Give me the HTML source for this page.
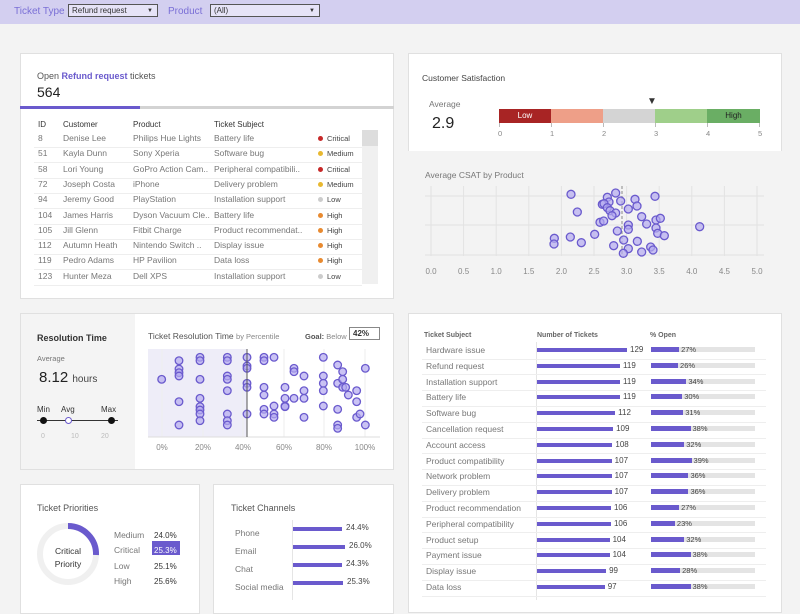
<!DOCTYPE html>
<html><head><meta charset="utf-8"><style>
*{margin:0;padding:0;box-sizing:border-box}
body{width:800px;height:600px;overflow:hidden;background:#f3f3f3;font-family:"Liberation Sans",sans-serif;color:#333;position:relative}
.a{position:absolute;white-space:nowrap}
.p{position:absolute;background:#fff;border:1px solid #e0e0e0}
.g{color:#777}
</style></head><body>
<div class="a" style="left:0;top:0;width:800px;height:24px;background:#d3cff0"></div>
<div class="a" style="left:14px;top:6px;font-size:10px;color:#7a6fd6">Ticket Type</div>
<div class="a" style="left:68px;top:4px;width:90px;height:13px;border:1px solid #555;background:#e6e3f7;font-size:8px;padding:1px 3px">Refund request<span style="position:absolute;right:4px;font-size:6px;top:3px">▼</span></div>
<div class="a" style="left:168px;top:6px;font-size:10px;color:#7a6fd6">Product</div>
<div class="a" style="left:210px;top:4px;width:110px;height:13px;border:1px solid #555;background:#e6e3f7;font-size:8px;padding:1px 3px">(All)<span style="position:absolute;right:4px;font-size:6px;top:3px">▼</span></div>

<div class="p" style="left:20px;top:53px;width:374px;height:246px"></div>
<div class="a" style="left:37px;top:71px;font-size:9px;color:#555">Open <b style="color:#6a5acd">Refund request</b> tickets</div>
<div class="a" style="left:37px;top:84px;font-size:14px;color:#222">564</div>
<div class="a" style="left:20px;top:106px;width:374px;height:3px;background:#d3d3d3"></div>
<div class="a" style="left:20px;top:106px;width:120px;height:3px;background:#6a5acd"></div>
<div class="a" style="left:362px;top:130px;width:16px;height:154px;background:#f0f0f0"></div>
<div class="a" style="left:362px;top:130px;width:16px;height:16px;background:#ddd"></div>

<div class="p" style="left:408px;top:53px;width:374px;height:246px"></div>
<div class="a" style="left:408px;top:151px;width:374px;height:148px;background:#f3f3f3"></div>
<div class="a" style="left:422px;top:73px;font-size:8.5px;color:#444">Customer Satisfaction</div>
<div class="a g" style="left:429px;top:99px;font-size:8.5px">Average</div>
<div class="a" style="left:432px;top:115px;font-size:16px;color:#222">2.9</div>
<div class="a" style="left:499px;top:109px;width:52px;height:14px;background:#a82424;color:#fff;font-size:8px;text-align:center;line-height:14px">Low</div>
<div class="a" style="left:551px;top:109px;width:52px;height:14px;background:#ee9f88"></div>
<div class="a" style="left:603px;top:109px;width:52px;height:14px;background:#d4d4d4"></div>
<div class="a" style="left:655px;top:109px;width:52px;height:14px;background:#9fcf8a"></div>
<div class="a" style="left:707px;top:109px;width:53px;height:14px;background:#6aae64;font-size:8px;text-align:center;line-height:14px;color:#222">High</div>
<div class="a" style="left:647px;top:96px;font-size:10px">▼</div>
<div class="a g" style="left:425px;top:170px;font-size:8.5px">Average CSAT by Product</div>
<svg class="a" style="left:408px;top:180px" width="374" height="100" id="cs"></svg>

<div class="p" style="left:20px;top:313px;width:374px;height:157px"></div>
<div class="a" style="left:21px;top:314px;width:114px;height:155px;background:#f4f4f4"></div>
<div class="a" style="left:37px;top:333px;font-size:9px;font-weight:bold;color:#333">Resolution Time</div>
<div class="a g" style="left:37px;top:354px;font-size:7.5px">Average</div>
<div class="a" style="left:39px;top:369px;font-size:15px;color:#222">8.12 <span style="font-size:10px;color:#444">hours</span></div>
<div class="a" style="left:37px;top:405px;font-size:8px">Min</div>
<div class="a" style="left:61px;top:405px;font-size:8px">Avg</div>
<div class="a" style="left:101px;top:405px;font-size:8px">Max</div>
<div class="a" style="left:37px;top:420px;width:81px;height:1px;background:#333"></div>
<div class="a" style="left:40px;top:417px;width:7px;height:7px;border-radius:50%;background:#111"></div>
<div class="a" style="left:65px;top:417px;width:7px;height:7px;border-radius:50%;border:1.3px solid #6a5acd;background:#fff"></div>
<div class="a" style="left:108px;top:417px;width:7px;height:7px;border-radius:50%;background:#111"></div>
<div class="a" style="left:41px;top:433px;font-size:7px;color:#bbb">0</div>
<div class="a" style="left:71px;top:433px;font-size:7px;color:#bbb">10</div>
<div class="a" style="left:101px;top:433px;font-size:7px;color:#bbb">20</div>
<div class="a" style="left:148px;top:331px;font-size:8.5px;color:#555">Ticket Resolution Time <span style="font-size:7.5px;color:#888">by Percentile</span></div>
<div class="a" style="left:305px;top:332px;font-size:7.5px;color:#888"><b style="color:#555">Goal:</b> Below</div>
<div class="a" style="left:349px;top:327px;width:31px;height:13px;border:1px solid #888;font-size:8px;font-weight:bold;padding:1px 0 0 3px;background:#fff">42%</div>
<svg class="a" style="left:135px;top:345px" width="258" height="115" id="rs"></svg>

<div class="p" style="left:408px;top:313px;width:374px;height:300px"></div>
<div class="a" style="left:424px;top:332px;font-size:7px;font-weight:bold;color:#666">Ticket Subject</div>
<div class="a" style="left:537px;top:332px;font-size:7px;font-weight:bold;color:#666">Number of Tickets</div>
<div class="a" style="left:650px;top:332px;font-size:7px;font-weight:bold;color:#666">% Open</div>
<div class="a" style="left:536px;top:342px;width:1px;height:258px;background:#e5e5e5"></div>

<div class="p" style="left:20px;top:484px;width:180px;height:130px"></div>
<div class="a" style="left:37px;top:503px;font-size:9px;color:#555">Ticket Priorities</div>
<svg class="a" style="left:36px;top:522px" width="64" height="64"><circle cx="32" cy="32" r="28" fill="none" stroke="#f0f0f0" stroke-width="6"/><path d="M32 4 A28 28 0 0 1 60 33" fill="none" stroke="#6a5acd" stroke-width="6"/></svg>
<div class="a" style="left:38px;top:545px;width:60px;text-align:center;font-size:8.5px;line-height:12.5px;color:#333">Critical<br>Priority</div>
<div class="a" style="left:152px;top:541px;width:28px;height:14px;background:#6a5acd"></div>
<div class="a g" style="left:114px;top:528px;font-size:8.5px;line-height:15.3px">Medium<br>Critical<br>Low<br>High</div>
<div class="a" style="left:154px;top:528px;font-size:8px;line-height:15.3px;color:#333">24.0%<br><span style="color:#fff">25.3%</span><br>25.1%<br>25.6%</div>

<div class="p" style="left:213px;top:484px;width:181px;height:130px"></div>
<div class="a" style="left:231px;top:503px;font-size:9px;color:#555">Ticket Channels</div>
<div class="a g" style="left:235px;top:524px;font-size:8.5px;line-height:18px">Phone<br>Email<br>Chat<br>Social media</div>
<div class="a" style="left:292px;top:520px;width:1px;height:80px;background:#e5e5e5"></div>

<script>
function h(s){document.body.insertAdjacentHTML('beforeend',s)}
var rows=[["8","Denise Lee","Philips Hue Lights","Battery life","Critical","#c62828"],["51","Kayla Dunn","Sony Xperia","Software bug","Medium","#e8b830"],["58","Lori Young","GoPro Action Cam..","Peripheral compatibili..","Critical","#c62828"],["72","Joseph Costa","iPhone","Delivery problem","Medium","#e8b830"],["94","Jeremy Good","PlayStation","Installation support","Low","#ccc"],["104","James Harris","Dyson Vacuum Cle..","Battery life","High","#e88a30"],["105","Jill Glenn","Fitbit Charge","Product recommendat..","High","#e88a30"],["112","Autumn Heath","Nintendo Switch ..","Display issue","High","#e88a30"],["119","Pedro Adams","HP Pavilion","Data loss","High","#e88a30"],["123","Hunter Meza","Dell XPS","Installation support","Low","#ccc"]];
h('<div class="a" style="left:38px;top:120px;font-size:8px;color:#333">ID</div><div class="a" style="left:63px;top:120px;font-size:8px">Customer</div><div class="a" style="left:133px;top:120px;font-size:8px">Product</div><div class="a" style="left:214px;top:120px;font-size:8px">Ticket Subject</div>');
rows.forEach(function(r,i){var y=133+i*15.3;
h('<div class="a" style="left:34px;top:'+(y+14)+'px;width:328px;height:1px;background:#eee"></div>');
h('<div class="a g" style="left:38px;top:'+y+'px;font-size:8.5px">'+r[0]+'</div><div class="a g" style="left:63px;top:'+y+'px;font-size:8.5px">'+r[1]+'</div><div class="a g" style="left:133px;top:'+y+'px;font-size:8.5px">'+r[2]+'</div><div class="a g" style="left:214px;top:'+y+'px;font-size:8.5px">'+r[3]+'</div>');
h('<div class="a" style="left:318px;top:'+(y+3)+'px;width:5px;height:5px;border-radius:50%;background:'+r[5]+'"></div><div class="a" style="left:327px;top:'+(y+1)+'px;font-size:7.5px;color:#444">'+r[4]+'</div>');});
for(var i=0;i<=5;i++)h('<div class="a" style="left:'+(499+i*52)+'px;top:123px;width:1px;height:4px;background:#bbb"></div><div class="a" style="left:'+(498+i*52)+'px;top:129px;font-size:7.5px;color:#888">'+i+'</div>');
var s='';var ox=431,k=65.2;
for(var i=0;i<=10;i++){var x=ox+i*k/2-408;s+='<line x1="'+x+'" y1="6" x2="'+x+'" y2="76" stroke="#e2e2e2"/>';s+='<text x="'+x+'" y="94" font-size="8" fill="#888" text-anchor="middle">'+(i/2).toFixed(1)+'</text>';}
[16,45,75].forEach(function(y){s+='<line x1="17" y1="'+y+'" x2="356" y2="'+y+'" stroke="#e2e2e2"/>'});
s+='<line x1="214" y1="6" x2="214" y2="76" stroke="#888" stroke-dasharray="3,2"/>';
var cd=[[513,463],[647,459],[622,472],[705,478],[765,469],[627,486],[662,483],[607,493],[612,491],[711,498],[622,503],[685,507],[532,516],[630,512],[647,519],[636,527],[725,530],[768,540],[781,535],[600,547],[611,543],[685,555],[740,552],[685,568],[652,573],[768,564],[773,580],[793,587],[899,560],[584,583],[511,591],[463,595],[462,612],[544,608],[671,600],[712,604],[641,617],[752,621],[759,630],[685,626],[725,636],[670,640]];
cd.forEach(function(c){s+='<circle cx="'+(c[0]/3-8)+'" cy="'+(40+c[1]/3-180)+'" r="4" fill="#b3aaf0" fill-opacity=".7" stroke="#6a5acd" stroke-width="1.3"/>'});
document.getElementById('cs').innerHTML=s;
s='<rect x="13" y="4" width="99" height="88" fill="#eeedf8"/>';
[162,203,243,284,324,365].forEach(function(x,i){s+='<line x1="'+(x-135)+'" y1="4" x2="'+(x-135)+'" y2="92" stroke="#eee"/>';s+='<text x="'+(x-135)+'" y="105" font-size="8" fill="#888" text-anchor="middle">'+(i*20)+'%</text>'});
s+='<line x1="13" y1="92" x2="245" y2="92" stroke="#ddd"/>';
var rd={485:[238],537:[182,207,218,228,305,375],600:[172,182,238,295,320,330,342,362],682:[172,182,228,238,272,342,362,375],741:[172,198,205,250,262,342],792:[172,182,262,285,328,342],822:[172,318,342,352],855:[262,295,318,320],882:[205,215,295],912:[228,272,295,352],970:[172,228,250,272,318],1013:[195,250,328,375,385],1028:[215,238,262],1037:[262],1045:[285],1070:[272,305,352],1080:[342],1096:[205,375]};
for(var x in rd)rd[x].forEach(function(y){s+='<circle cx="'+(x/3-135)+'" cy="'+(y/3+300-345)+'" r="3.8" fill="#b3aaf0" fill-opacity=".7" stroke="#6a5acd" stroke-width="1.3"/>'});
s+='<line x1="112" y1="4" x2="112" y2="92" stroke="#555" stroke-width="1"/>';
document.getElementById('rs').innerHTML=s;
var st=[["Hardware issue",129,27],["Refund request",119,26],["Installation support",119,34],["Battery life",119,30],["Software bug",112,31],["Cancellation request",109,38],["Account access",108,32],["Product compatibility",107,39],["Network problem",107,36],["Delivery problem",107,36],["Product recommendation",106,27],["Peripheral compatibility",106,23],["Product setup",104,32],["Payment issue",104,38],["Display issue",99,28],["Data loss",97,38]];
st.forEach(function(r,i){var y=344+i*15.8;
h('<div class="a" style="left:422px;top:'+(y+14.5)+'px;width:344px;height:1px;background:#eee"></div>');
h('<div class="a g" style="left:426px;top:'+(y+1)+'px;font-size:8.5px">'+r[0]+'</div>');
var w=r[1]*0.698;h('<div class="a" style="left:537px;top:'+(y+4)+'px;width:'+w+'px;height:4px;background:#6a5acd"></div><div class="a" style="left:'+(537+w+3)+'px;top:'+(y+1)+'px;font-size:8px;color:#444">'+r[1]+'</div>');
var p=r[2]*1.04;h('<div class="a" style="left:651px;top:'+(y+3)+'px;width:104px;height:5px;background:#e4e4e4"></div><div class="a" style="left:651px;top:'+(y+3)+'px;width:'+p+'px;height:5px;background:#6a5acd"></div><div class="a" style="left:'+(651+p+2)+'px;top:'+(y+1)+'px;font-size:7.5px;color:#444">'+r[2]+'%</div>');});
[[24.4,49],[26.0,52],[24.3,49],[25.3,50]].forEach(function(c,i){var y=527+i*18;h('<div class="a" style="left:293px;top:'+y+'px;width:'+c[1]+'px;height:3.5px;background:#6a5acd"></div><div class="a" style="left:'+(297+c[1])+'px;top:'+(y-4)+'px;font-size:8px;color:#444">'+c[0].toFixed(1)+'%</div>')});
</script>
</body></html>
